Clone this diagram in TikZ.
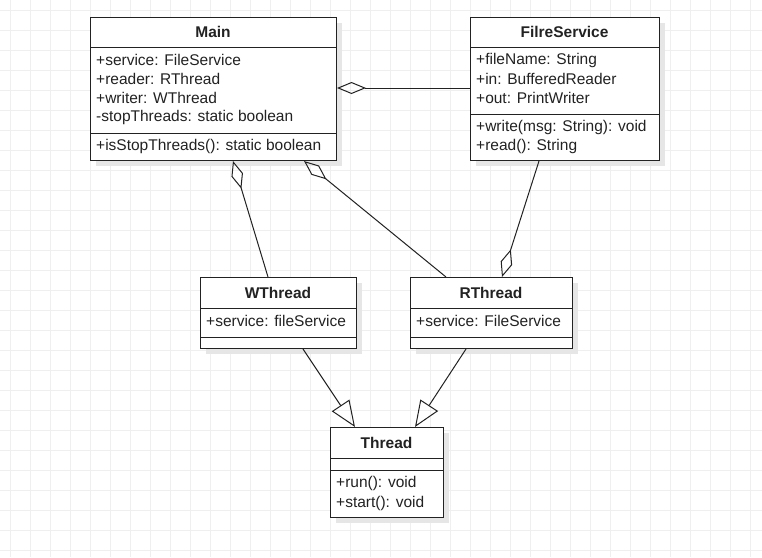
\documentclass[tikz,border=0pt]{standalone}
\usepackage{fontspec}
\setmainfont{Liberation Sans}
\usetikzlibrary{arrows.meta}
\definecolor{gridc}{HTML}{EFEFEF}
\definecolor{shadowc}{HTML}{E6E6E6}
\definecolor{linec}{HTML}{222222}
\definecolor{textc}{HTML}{222222}
\tikzset{
  box/.style={draw=linec, fill=white, line width=1pt, inner sep=0pt, anchor=north west},
  shad/.style={fill=shadowc},
  sep/.style={draw=linec, line width=1pt},
  title/.style={font=\fontsize{15.5}{18}\selectfont\bfseries, text=textc, inner sep=0pt},
  attr/.style={font=\fontsize{15.5}{18}\selectfont, text=textc, anchor=west, inner sep=0pt},
  conn/.style={draw=linec, line width=1pt},
  agg/.style={conn, {Diamond[open, length=29pt, width=12pt, line width=1pt]}-},
  aggend/.style={conn, -{Diamond[open, length=29pt, width=12pt, line width=1pt]}},
  inh/.style={conn, -{Triangle[open, length=26pt, width=21pt, line width=1pt]}}
}
\begin{document}
\begin{tikzpicture}[x=1pt, y=-1pt]
\useasboundingbox (0,0) rectangle (762,557);
\fill[white] (0,0) rectangle (762,557);
\foreach \i in {10,30,...,750} \draw[gridc, line width=0.8pt] (\i,0) -- (\i,557);
\foreach \j in {10,30,...,550} \draw[gridc, line width=0.8pt] (0,\j) -- (762,\j);

% shadows
\fill[shad] (96,23) rectangle (342,166);
\fill[shad] (476,23) rectangle (665,166);
\fill[shad] (206,283) rectangle (362,354);
\fill[shad] (416,283) rectangle (578,354);
\fill[shad] (336,433) rectangle (449,523);

% Main
\node[box, minimum width=246pt, minimum height=143pt] (main) at (90,17) {};
\draw[sep] (90,47) -- (336,47);
\draw[sep] (90,133) -- (336,133);
\node[title] (mainT) at (213,32) {Main};
\node[attr] (mainA1) at (96,60) {+service: FileService};
\node[attr] (mainA2) at (96,79) {+reader: RThread};
\node[attr] (mainA3) at (96,98) {+writer: WThread};
\node[attr] (mainA4) at (96,117) {-stopThreads: static boolean};
\node[attr] (mainM1) at (96,146) {+isStopThreads(): static boolean};

% FilreService
\node[box, minimum width=189pt, minimum height=143pt] (fs) at (470,17) {};
\draw[sep] (470,47) -- (659,47);
\draw[sep] (470,114) -- (659,114);
\node[title] (fsT) at (564.5,32) {FilreService};
\node[attr] (fsA1) at (476,60) {+fileName: String};
\node[attr] (fsA2) at (476,79) {+in: BufferedReader};
\node[attr] (fsA3) at (476,98) {+out: PrintWriter};
\node[attr] (fsM1) at (476,127) {+write(msg: String): void};
\node[attr] (fsM2) at (476,146) {+read(): String};

% WThread
\node[box, minimum width=156pt, minimum height=71pt] (wt) at (200,277) {};
\draw[sep] (200,308) -- (356,308);
\draw[sep] (200,337) -- (356,337);
\node[title] (wtT) at (278,292.5) {WThread};
\node[attr] (wtA1) at (206,320.5) {+service: fileService};

% RThread
\node[box, minimum width=162pt, minimum height=71pt] (rt) at (410,277) {};
\draw[sep] (410,308) -- (572,308);
\draw[sep] (410,337) -- (572,337);
\node[title] (rtT) at (491,292.5) {RThread};
\node[attr] (rtA1) at (416,320.5) {+service: FileService};

% Thread
\node[box, minimum width=113pt, minimum height=90pt] (th) at (330,427) {};
\draw[sep] (330,458) -- (443,458);
\draw[sep] (330,470) -- (443,470);
\node[title] (thT) at (386.5,442.5) {Thread};
\node[attr] (thM1) at (336,483) {+run(): void};
\node[attr] (thM2) at (336,503) {+start(): void};

% connectors
\draw[agg] (main.east |- 0,88) -- (fs.west |- 0,88);
\draw[agg] ([xshift=143pt]main.south west) -- ([xshift=68pt]wt.north west);
\draw[agg] ([xshift=214pt]main.south west) -- ([xshift=36pt]rt.north west);
\draw[aggend] ([xshift=69pt]fs.south west) -- ([xshift=92pt]rt.north west);
\draw[inh] ([xshift=103pt]wt.south west) -- ([xshift=25pt]th.north west);
\draw[inh] ([xshift=56pt]rt.south west) -- ([xshift=85pt]th.north west);
\end{tikzpicture}
\end{document}
